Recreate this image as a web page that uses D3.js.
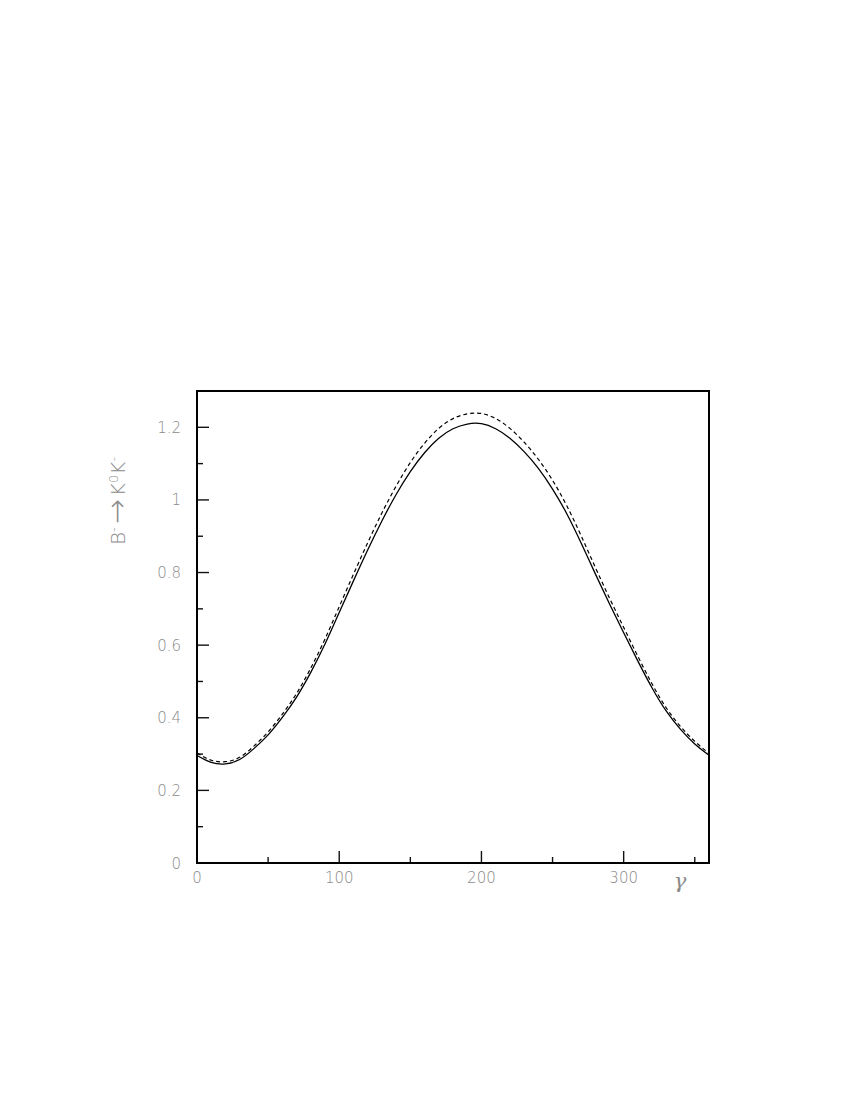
<!DOCTYPE html>
<html><head><meta charset="utf-8">
<script src="https://cdn.jsdelivr.net/npm/d3@7"></script>
<style>html,body{margin:0;padding:0;background:#fff;}</style>
</head><body>
<svg id="chart" width="850" height="1100"></svg>
<script>
const gammaVals = [0,10,20,30,40,50,60,70,80,90,100,110,120,130,140,150,160,170,180,190,200,210,220,230,240,250,260,270,280,290,300,310,320,330,340,350,360];
const solidVals = [0.296,0.277,0.273,0.285,0.315,0.353,0.401,0.457,0.525,0.603,0.690,0.777,0.862,0.942,1.015,1.078,1.130,1.170,1.196,1.209,1.210,1.196,1.170,1.133,1.087,1.030,0.962,0.882,0.797,0.714,0.634,0.556,0.482,0.418,0.368,0.328,0.297];
const dashedVals = [0.303,0.283,0.279,0.291,0.322,0.361,0.410,0.467,0.537,0.617,0.706,0.795,0.882,0.964,1.038,1.103,1.156,1.197,1.224,1.237,1.238,1.224,1.197,1.159,1.112,1.054,0.984,0.902,0.815,0.730,0.649,0.569,0.493,0.427,0.376,0.335,0.302];
const xMajorTicks = [0,100,200,300];
const xMinorTicks = [50,150,250,350];
const yMajorTicks = [0,0.2,0.4,0.6,0.8,1,1.2];
const yMinorTicks = [0.1,0.3,0.5,0.7,0.9,1.1];

const L=197,R=709,T=391,B=863;
const svg = d3.select("#chart");
const x = d3.scaleLinear().domain([0,360]).range([L,R]);
const y = d3.scaleLinear().domain([0,1.3]).range([B,T]);
const labelColor = "#8a8a8a";
const font = "'DejaVu Sans', 'Liberation Sans', Arial, sans-serif";

// ticks
const g = svg.append("g");
g.selectAll(".xmaj").data(xMajorTicks).join("line")
  .attr("x1",d=>x(d)).attr("x2",d=>x(d)).attr("y1",B).attr("y2",B-12)
  .attr("stroke","#111").attr("stroke-width",1.4);
g.selectAll(".xmin").data(xMinorTicks).join("line")
  .attr("x1",d=>x(d)).attr("x2",d=>x(d)).attr("y1",B).attr("y2",B-6)
  .attr("stroke","#111").attr("stroke-width",1.4);
g.selectAll(".ymaj").data(yMajorTicks).join("line")
  .attr("x1",L).attr("x2",L+12).attr("y1",d=>y(d)).attr("y2",d=>y(d))
  .attr("stroke","#111").attr("stroke-width",1.4);
g.selectAll(".ymin").data(yMinorTicks).join("line")
  .attr("x1",L).attr("x2",L+6).attr("y1",d=>y(d)).attr("y2",d=>y(d))
  .attr("stroke","#111").attr("stroke-width",1.4);

// tick labels
svg.selectAll(".xl").data(xMajorTicks).join("text")
  .attr("x",d=>x(d)).attr("y",B+20).attr("text-anchor","middle")
  .attr("font-family",font).attr("font-weight",200).attr("font-size",15).attr("fill",labelColor)
  .text(d=>d);
svg.selectAll(".yl").data(yMajorTicks).join("text")
  .attr("x",L-16).attr("y",d=>y(d)+5.5).attr("text-anchor","end")
  .attr("font-family",font).attr("font-weight",200).attr("font-size",15).attr("fill",labelColor)
  .text(d=>d3.format("~g")(d));

// curves
const pts = (vals)=>gammaVals.map((g,i)=>[g,vals[i]]);
const line = d3.line().x(d=>x(d[0])).y(d=>y(d[1])).curve(d3.curveNatural);
svg.append("path").attr("d",line(pts(dashedVals))).attr("fill","none")
  .attr("stroke","#000").attr("stroke-width",1.2).attr("stroke-dasharray","4,3");
svg.append("path").attr("d",line(pts(solidVals))).attr("fill","none")
  .attr("stroke","#000").attr("stroke-width",1.3);

// frame
svg.append("rect").attr("x",L).attr("y",T).attr("width",R-L).attr("height",B-T)
  .attr("fill","none").attr("stroke","#000").attr("stroke-width",2);

// x axis title
svg.append("text").attr("x",680).attr("y",888).attr("text-anchor","middle")
  .attr("font-family","'DejaVu Serif', serif").attr("font-style","italic").attr("font-weight",200)
  .attr("font-size",21).attr("fill",labelColor).text("γ");

// y axis title
const yt = svg.append("text").attr("transform","translate(125,501) rotate(-90)")
  .attr("text-anchor","middle").attr("font-family",font).attr("font-weight",200)
  .attr("font-size",20).attr("fill",labelColor);
yt.append("tspan").text("B");
yt.append("tspan").attr("baseline-shift","super").attr("font-size",13).text("-");
yt.append("tspan").attr("dx",3).attr("font-size",30).attr("dy",2).text("→");
yt.append("tspan").attr("dx",3).attr("dy",-2).text("K");
yt.append("tspan").attr("baseline-shift","super").attr("font-size",13).text("0");
yt.append("tspan").text("K");
yt.append("tspan").attr("baseline-shift","super").attr("font-size",13).text("-");
</script>
</body></html>
